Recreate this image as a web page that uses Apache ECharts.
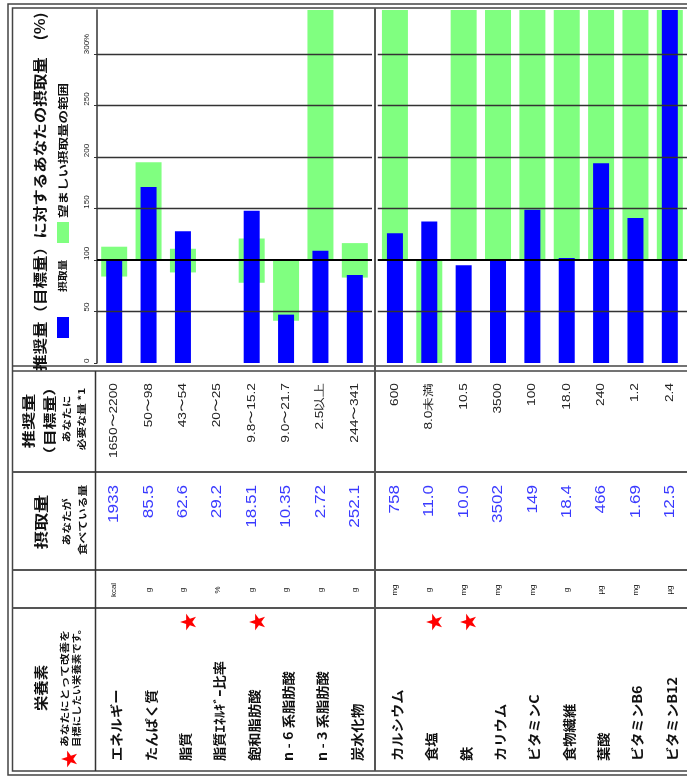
<!DOCTYPE html>
<html>
<head>
<meta charset="utf-8">
<script src="https://cdn.jsdelivr.net/npm/echarts@6/dist/echarts.min.js"></script>
<style>
html,body{margin:0;padding:0;background:#fff;}
#c{width:687px;height:776px;}
</style>
</head>
<body>
<div id="c"></div>
<script>
// Nutrients, split into the macro group (left block) and the mineral/vitamin group (right block)
const leftNames = ['エネルギー', 'たんぱく質', '脂質', '脂質ｴﾈﾙｷﾞｰ比率', '飽和脂肪酸', 'n - 6 系脂肪酸', 'n - 3 系脂肪酸', '炭水化物'];
const rightNames = ['カルシウム', '食塩', '鉄', 'カリウム', 'ビタミンC', '食物繊維', '葉酸', 'ビタミンB6', 'ビタミンB12'];
const units = ['kcal', 'g', 'g', '%', 'g', 'g', 'g', 'g', 'mg', 'g', 'mg', 'mg', 'mg', 'g', 'µg', 'mg', 'µg'];
const intakeText = ['1933', '85.5', '62.6', '29.2', '18.51', '10.35', '2.72', '252.1', '758', '11.0', '10.0', '3502', '149', '18.4', '466', '1.69', '12.5'];
const recommendedText = ['1650〜2200', '50〜98', '43〜54', '20〜25', '9.8〜15.2', '9.0〜21.7', '2.5以上', '244〜341', '600', '8.0未満', '10.5', '3500', '100', '18.0', '240', '1.2', '2.4'];
const starred = [false, false, true, false, true, false, false, false, false, true, true, false, false, false, false, false, false];
// Intake as % of the recommended amount
const intakePct = [100, 171, 128, null, 148, 47, 109, 85.5, 126, 137.5, 95, 100, 149, 102, 194, 141, 520];
// Desirable range in % (null high = open ended)
const rangeLow = [84, 100, 88, null, 78, 41, 100, 83, 100, 0, 100, 100, 100, 100, 100, 100, 100];
const rangeHigh = [113, 195, 111, null, 121, 100, null, 116.5, null, 100, null, null, null, null, null, null, null];
const valueTicks = [0, 50, 100, 150, 200, 250, 300];

const AXIS_MAX = 343;
const JP = '"Noto Sans CJK JP", sans-serif';
const NUM = '"Liberation Sans", Arial, sans-serif';
const BLUE = '#0000ff';
const GREEN = '#80ff80';

const nL = leftNames.length;
function part(arr, g) { return g === 0 ? arr.slice(0, nL) : arr.slice(nL); }
function base(g) { return part(rangeLow, g).map(v => v == null ? null : v); }
function band(g) {
  const lo = part(rangeLow, g), hi = part(rangeHigh, g);
  return lo.map((v, i) => v == null ? null : (hi[i] == null ? AXIS_MAX : hi[i]) - v);
}

const chart = echarts.init(document.getElementById('c'), null, { renderer: 'canvas' });

function yAxisDef(gridIndex, showLabels) {
  return {
    type: 'value', gridIndex, min: 0, max: AXIS_MAX, interval: 50,
    axisLine: { show: showLabels, lineStyle: { color: '#333', width: 1.5 } },
    axisTick: { show: showLabels, length: 3, lineStyle: { color: '#333' } },
    splitLine: { show: false },
    axisLabel: {
      show: showLabels, rotate: 90, align: 'left', margin: 6, showMaxLabel: false,
      fontSize: 8, fontFamily: NUM, color: '#222',
      formatter: v => v === 300 ? '300%' : String(v)
    }
  };
}
function xAxisDef(gridIndex, names, pos) {
  return { type: 'category', gridIndex, data: names, position: pos, show: false, boundaryGap: true };
}
const gridLines = valueTicks.filter(v => v > 0).map(v => ({
  yAxis: v, lineStyle: { color: v === 100 ? '#000' : '#333', width: v === 100 ? 2 : 1.3, type: 'solid' }
}));
function seriesFor(g) {
  const xa = g * 2;
  return [
    { type: 'bar', name: 'base' + g, xAxisIndex: xa, yAxisIndex: g, stack: 'range' + g, barWidth: 26,
      itemStyle: { color: 'transparent' }, data: base(g), silent: true, animation: false },
    { type: 'bar', name: '望ましい摂取量の範囲', xAxisIndex: xa, yAxisIndex: g, stack: 'range' + g, barWidth: 26,
      itemStyle: { color: GREEN }, data: band(g), animation: false },
    { type: 'bar', name: '摂取量', xAxisIndex: xa + 1, yAxisIndex: g, barWidth: 16,
      itemStyle: { color: BLUE }, data: part(intakePct, g), animation: false, z: 3,
      markLine: { silent: true, symbol: 'none', label: { show: false }, animation: false, data: gridLines } }
  ];
}

chart.setOption({
  animation: false,
  grid: [
    { left: 97, top: 10, width: 275, height: 353 },
    { left: 377.75, top: 10, width: 310.5, height: 353 }
  ],
  xAxis: [
    xAxisDef(0, leftNames, 'bottom'), xAxisDef(0, leftNames, 'top'),
    xAxisDef(1, rightNames, 'bottom'), xAxisDef(1, rightNames, 'top')
  ],
  yAxis: [yAxisDef(0, true), yAxisDef(1, false)],
  series: [...seriesFor(0), ...seriesFor(1)]
});

// column centres taken from the category axes
const colX = [];
leftNames.forEach(n => colX.push(chart.convertToPixel({ xAxisIndex: 0 }, n)));
rightNames.forEach(n => colX.push(chart.convertToPixel({ xAxisIndex: 2 }, n)));

const R = Math.PI / 2; // text runs bottom-to-top
function vtext(x, y, text, o) {
  return {
    type: 'text', x, y, rotation: R, scaleX: o.scale || 1, z: 100,
    style: {
      text, fontSize: o.size, fontFamily: o.family || JP, fontWeight: o.weight || 'normal',
      fill: o.color || '#111', align: o.align || 'left', verticalAlign: 'middle'
    }
  };
}
function hline(x1, x2, y, w, c) {
  return { type: 'line', z: 100, shape: { x1, y1: y, x2, y2: y }, style: { stroke: c || '#444', lineWidth: w || 1.5 } };
}
function vline(x, y1, y2, w, c) {
  return { type: 'line', z: 100, shape: { x1: x, y1, x2: x, y2 }, style: { stroke: c || '#444', lineWidth: w || 1.5 } };
}

const els = [];
// frame
els.push({ type: 'rect', z: 100, shape: { x: 8, y: 4, width: 700, height: 771 }, style: { fill: 'none', stroke: '#444', lineWidth: 1.5 } });
els.push({ type: 'rect', z: 100, shape: { x: 12.5, y: 8, width: 700, height: 763 }, style: { fill: 'none', stroke: '#444', lineWidth: 1.5 } });
els.push(hline(12.5, 687, 366, 1.5));
els.push(hline(12.5, 687, 371, 1.5));
els.push(hline(12.5, 687, 472, 2, '#555'));
els.push(hline(12.5, 687, 570, 2, '#555'));
els.push(hline(12.5, 687, 608, 2, '#555'));
els.push(vline(95.5, 371, 771, 1.5, '#333'));
els.push(vline(375, 8, 771, 2, '#555'));

// chart title and legend
els.push(vtext(40, 371, '推奨量（目標量）に対するあなたの摂取量　(%)', { size: 14, weight: 'bold', scale: 1.18 }));
els.push({ type: 'rect', z: 100, shape: { x: 57, y: 317, width: 12, height: 21 }, style: { fill: BLUE } });
els.push(vtext(63, 292, '摂取量', { size: 9, weight: 'bold', scale: 1.2 }));
els.push({ type: 'rect', z: 100, shape: { x: 57, y: 222, width: 12, height: 21 }, style: { fill: GREEN } });
els.push(vtext(63, 218, '望ましい摂取量の範囲', { size: 10, weight: 'bold', scale: 1.35 }));

// row headers
els.push(vtext(28, 421, '推奨量', { size: 13, weight: 'bold', align: 'center', scale: 1.4 }));
els.push(vtext(49, 421, '（目標量）', { size: 13, weight: 'bold', align: 'center', scale: 1.3 }));
els.push(vtext(67, 419, 'あなたに', { size: 9, weight: 'bold', align: 'center', scale: 1.3 }));
els.push(vtext(82, 419, '必要な量 *1', { size: 9, weight: 'bold', align: 'center', scale: 1.3 }));
els.push(vtext(41, 522, '摂取量', { size: 14, weight: 'bold', align: 'center', scale: 1.3 }));
els.push(vtext(67, 522, 'あなたが', { size: 9, weight: 'bold', align: 'center', scale: 1.3 }));
els.push(vtext(83, 520, '食べている量', { size: 9, weight: 'bold', align: 'center', scale: 1.3 }));
els.push(vtext(41, 688, '栄養素', { size: 14, weight: 'bold', align: 'center', scale: 1.1 }));
els.push(vtext(69, 759, '★', { size: 18, color: '#ff0000', align: 'center' }));
els.push(vtext(65, 747, 'あなたにとって改善を', { size: 9, weight: 'bold', scale: 1.3 }));
els.push(vtext(77, 747, '目標にしたい栄養素です。', { size: 9, weight: 'bold', scale: 1.15 }));

// per-nutrient cells
colX.forEach((x, i) => {
  const name = i < nL ? leftNames[i] : rightNames[i - nL];
  els.push(vtext(x + 2, 761, name, { size: 13, weight: 'bold', scale: 1.1 }));
  if (starred[i]) els.push(vtext(x + 5, 622, '★', { size: 18, color: '#ff0000', align: 'center' }));
  els.push(vtext(x, 590, units[i], { size: 8, family: NUM, align: 'center' }));
  els.push(vtext(x, 485, intakeText[i], { size: 15, family: NUM, color: '#3a3aff', align: 'right', scale: 1.14 }));
  els.push(vtext(x, 383, recommendedText[i], { size: 11, family: NUM, color: '#222', align: 'right', scale: 1.25 }));
});

chart.setOption({ graphic: els });
</script>
</body>
</html>
